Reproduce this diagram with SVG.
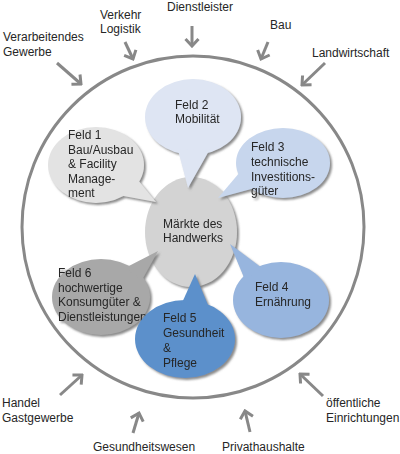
<svg xmlns="http://www.w3.org/2000/svg" width="400" height="454" viewBox="0 0 400 454">
<defs>
<filter id="sh" x="-20%" y="-20%" width="140%" height="140%">
<feDropShadow dx="2" dy="2" stdDeviation="0.8" flood-color="#777" flood-opacity="0.85"/>
</filter>
<marker id="ah" viewBox="-10 -8 12 16" markerWidth="12" markerHeight="16" refX="0" refY="0" orient="auto" markerUnits="userSpaceOnUse">
<path d="M-7,-6.5 L0,0 L-7,6.5" fill="none" stroke="#888" stroke-width="3"/>
</marker>
</defs>
<style>
text{font-family:"Liberation Sans",Arial,sans-serif;font-size:12px;fill:#262626}
.arr{stroke:#888;stroke-width:3;fill:none;marker-end:url(#ah)}
.b{filter:url(#sh)}
</style>
<rect width="400" height="454" fill="#fff"/>
<circle id="ring" cx="193" cy="227" r="171" fill="none" stroke="#888" stroke-width="3"/>
<g id="connectors">
<line class="arr" x1="57" y1="63" x2="81" y2="84"/>
<line class="arr" x1="125" y1="42" x2="133" y2="59"/>
<line class="arr" x1="192" y1="26" x2="192" y2="46"/>
<line class="arr" x1="268" y1="42" x2="261" y2="59"/>
<line class="arr" x1="325" y1="63" x2="302" y2="85"/>
<line class="arr" x1="60" y1="395" x2="82" y2="375"/>
<line class="arr" x1="133" y1="433" x2="139" y2="413"/>
<line class="arr" x1="250" y1="432" x2="245" y2="411"/>
<line class="arr" x1="323" y1="396" x2="300" y2="374"/>
</g>
<g id="labels">
<text x="3" y="41">Verarbeitendes</text>
<text x="3" y="56">Gewerbe</text>
<text x="100" y="19">Verkehr</text>
<text x="100" y="33">Logistik</text>
<text x="167" y="11">Dienstleister</text>
<text x="270" y="29">Bau</text>
<text x="312" y="57">Landwirtschaft</text>
<text x="2" y="407">Handel</text>
<text x="2" y="422">Gastgewerbe</text>
<text x="93" y="451">Gesundheitswesen</text>
<text x="222" y="451">Privathaushalte</text>
<text x="326" y="407">öffentliche</text>
<text x="326" y="422">Einrichtungen</text>
</g>
<g id="center" class="b">
<ellipse cx="191" cy="232" rx="46" ry="55" fill="#d3d3d3"/>
<text x="163" y="228">Märkte des</text>
<text x="163" y="242">Handwerks</text>
</g>
<g id="feld2" class="b">
<ellipse cx="193" cy="117" rx="48" ry="38" fill="#dee5f3"/>
<polygon points="178,150 188,188 210,149" fill="#dee5f3"/>
<text x="175" y="109">Feld 2</text>
<text x="175" y="123">Mobilität</text>
</g>
<g id="feld1" class="b">
<ellipse cx="96" cy="165" rx="48" ry="38" fill="#e3e3e3"/>
<polygon points="118,195 156,202 138,180" fill="#e3e3e3"/>
<text x="68" y="139">Feld 1</text>
<text x="68" y="154">Bau/Ausbau</text>
<text x="68" y="168">&amp; Facility</text>
<text x="68" y="183">Manage-</text>
<text x="68" y="197">ment</text>
</g>
<g id="feld3" class="b">
<ellipse cx="283" cy="163" rx="47" ry="35" fill="#c7d6ed"/>
<polygon points="240,172 218,198 255,188" fill="#c7d6ed"/>
<text x="251" y="151">Feld 3</text>
<text x="251" y="166">technische</text>
<text x="251" y="181">Investitions-</text>
<text x="251" y="195">güter</text>
</g>
<g id="feld4" class="b">
<ellipse cx="281" cy="300" rx="48" ry="38" fill="#97b5de"/>
<polygon points="245,280 230,244 262,268" fill="#97b5de"/>
<text x="255" y="291">Feld 4</text>
<text x="255" y="306">Ernährung</text>
</g>
<g id="feld6" class="b">
<ellipse cx="101" cy="297" rx="49" ry="38" fill="#a8a8a8"/>
<polygon points="125,268 158,251 142,280" fill="#a8a8a8"/>
<text x="58" y="277">Feld 6</text>
<text x="58" y="292">hochwertige</text>
<text x="58" y="306">Konsumgüter &amp;</text>
<text x="58" y="321">Dienstleistungen</text>
</g>
<g id="feld5" class="b">
<ellipse cx="185" cy="339" rx="50" ry="39" fill="#5b90cb"/>
<polygon points="181,305 195,274 208,305" fill="#5b90cb"/>
<text x="163" y="322">Feld 5</text>
<text x="163" y="337">Gesundheit</text>
<text x="163" y="352">&amp;</text>
<text x="163" y="367">Pflege</text>
</g>
</svg>
